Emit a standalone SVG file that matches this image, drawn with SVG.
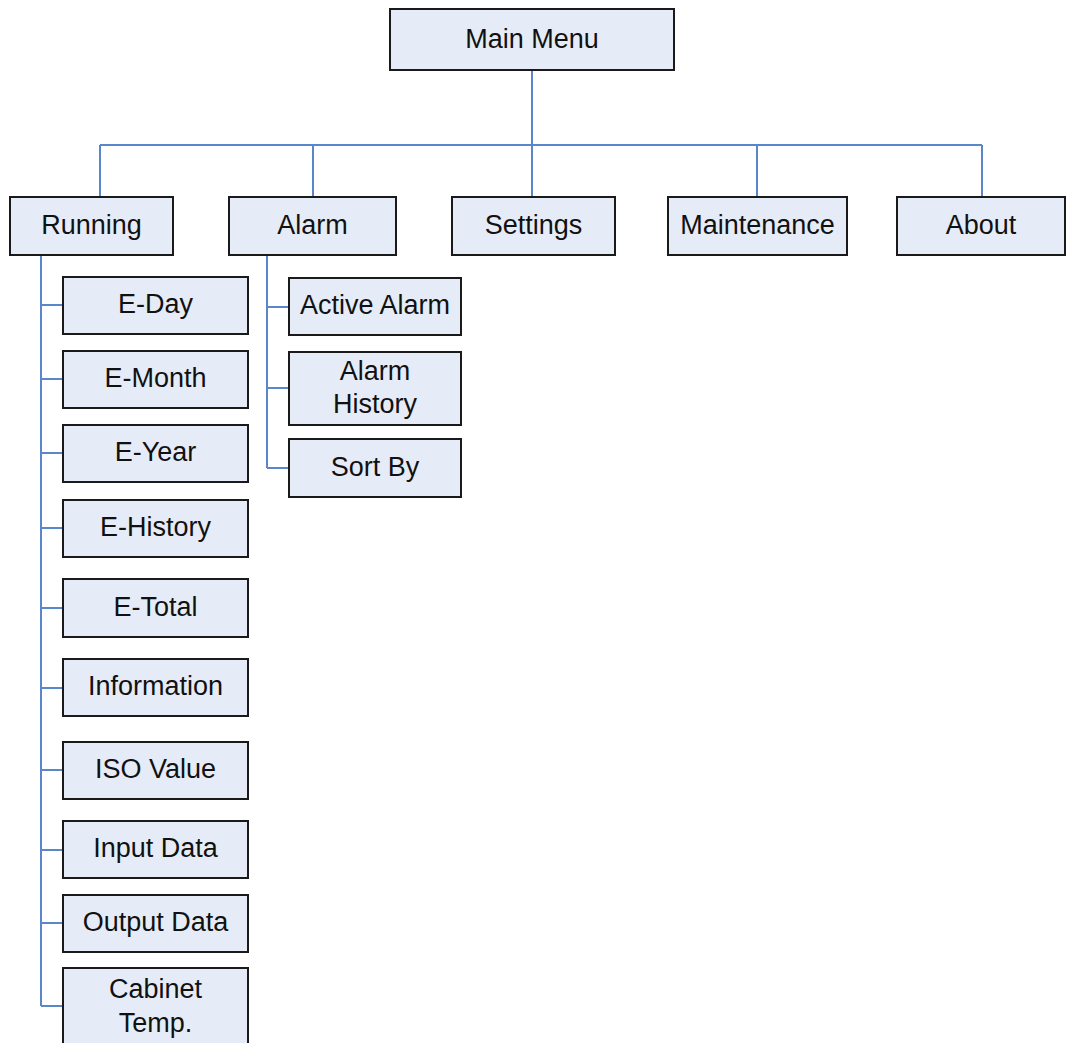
<svg xmlns="http://www.w3.org/2000/svg" width="1066" height="1043" viewBox="0 0 1066 1043">
<style>
.box{fill:#e6ecf7;stroke:#1a1a1a;stroke-width:2}
.t{font-family:"Liberation Sans",Arial,sans-serif;font-size:27px;fill:#111;text-anchor:middle}
.c{stroke:#5a87cc;stroke-width:2;fill:none}
</style>
<rect width="1066" height="1043" fill="#fff"/>
<g id="connectors">
<path class="c" d="M532 70V197M100 145H982M100 145V197M313 145V197M757 145V197M982 145V197"/>
<path class="c" d="M41 255V1006M41 305H63M41 379H63M41 453H63M41 528H63M41 608H63M41 688H63M41 770H63M41 850H63M41 923H63M41 1006H63"/>
<path class="c" d="M267 255V468M267 307H289M267 388H289M267 468H289"/>
</g>
<g id="main-menu"><rect class="box" x="390" y="9" width="284" height="61"/><text class="t" x="532" y="48">Main Menu</text></g>
<g id="running"><rect class="box" x="10" y="197" width="163" height="58"/><text class="t" x="91.5" y="234">Running</text></g>
<g id="alarm"><rect class="box" x="229" y="197" width="167" height="58"/><text class="t" x="312.5" y="234">Alarm</text></g>
<g id="settings"><rect class="box" x="452" y="197" width="163" height="58"/><text class="t" x="533.5" y="234">Settings</text></g>
<g id="maintenance"><rect class="box" x="668" y="197" width="179" height="58"/><text class="t" x="757.5" y="234">Maintenance</text></g>
<g id="about"><rect class="box" x="897" y="197" width="168" height="58"/><text class="t" x="981" y="234">About</text></g>
<g id="e-day"><rect class="box" x="63" y="277" width="185" height="57"/><text class="t" x="155.5" y="313">E-Day</text></g>
<g id="e-month"><rect class="box" x="63" y="351" width="185" height="57"/><text class="t" x="155.5" y="387">E-Month</text></g>
<g id="e-year"><rect class="box" x="63" y="425" width="185" height="57"/><text class="t" x="155.5" y="461">E-Year</text></g>
<g id="e-history"><rect class="box" x="63" y="500" width="185" height="57"/><text class="t" x="155.5" y="536">E-History</text></g>
<g id="e-total"><rect class="box" x="63" y="579" width="185" height="58"/><text class="t" x="155.5" y="616">E-Total</text></g>
<g id="information"><rect class="box" x="63" y="659" width="185" height="57"/><text class="t" x="155.5" y="695">Information</text></g>
<g id="iso-value"><rect class="box" x="63" y="742" width="185" height="57"/><text class="t" x="155.5" y="778">ISO Value</text></g>
<g id="input-data"><rect class="box" x="63" y="821" width="185" height="57"/><text class="t" x="155.5" y="857">Input Data</text></g>
<g id="output-data"><rect class="box" x="63" y="895" width="185" height="57"/><text class="t" x="155.5" y="931">Output Data</text></g>
<g id="cabinet-temp"><rect class="box" x="63" y="968" width="185" height="90"/><text class="t" x="155.5" y="998">Cabinet</text><text class="t" x="155.5" y="1032">Temp.</text></g>
<g id="active-alarm"><rect class="box" x="289" y="278" width="172" height="57"/><text class="t" x="375" y="314">Active Alarm</text></g>
<g id="alarm-history"><rect class="box" x="289" y="352" width="172" height="73"/><text class="t" x="375" y="380">Alarm</text><text class="t" x="375" y="413">History</text></g>
<g id="sort-by"><rect class="box" x="289" y="439" width="172" height="58"/><text class="t" x="375" y="476">Sort By</text></g>
</svg>
